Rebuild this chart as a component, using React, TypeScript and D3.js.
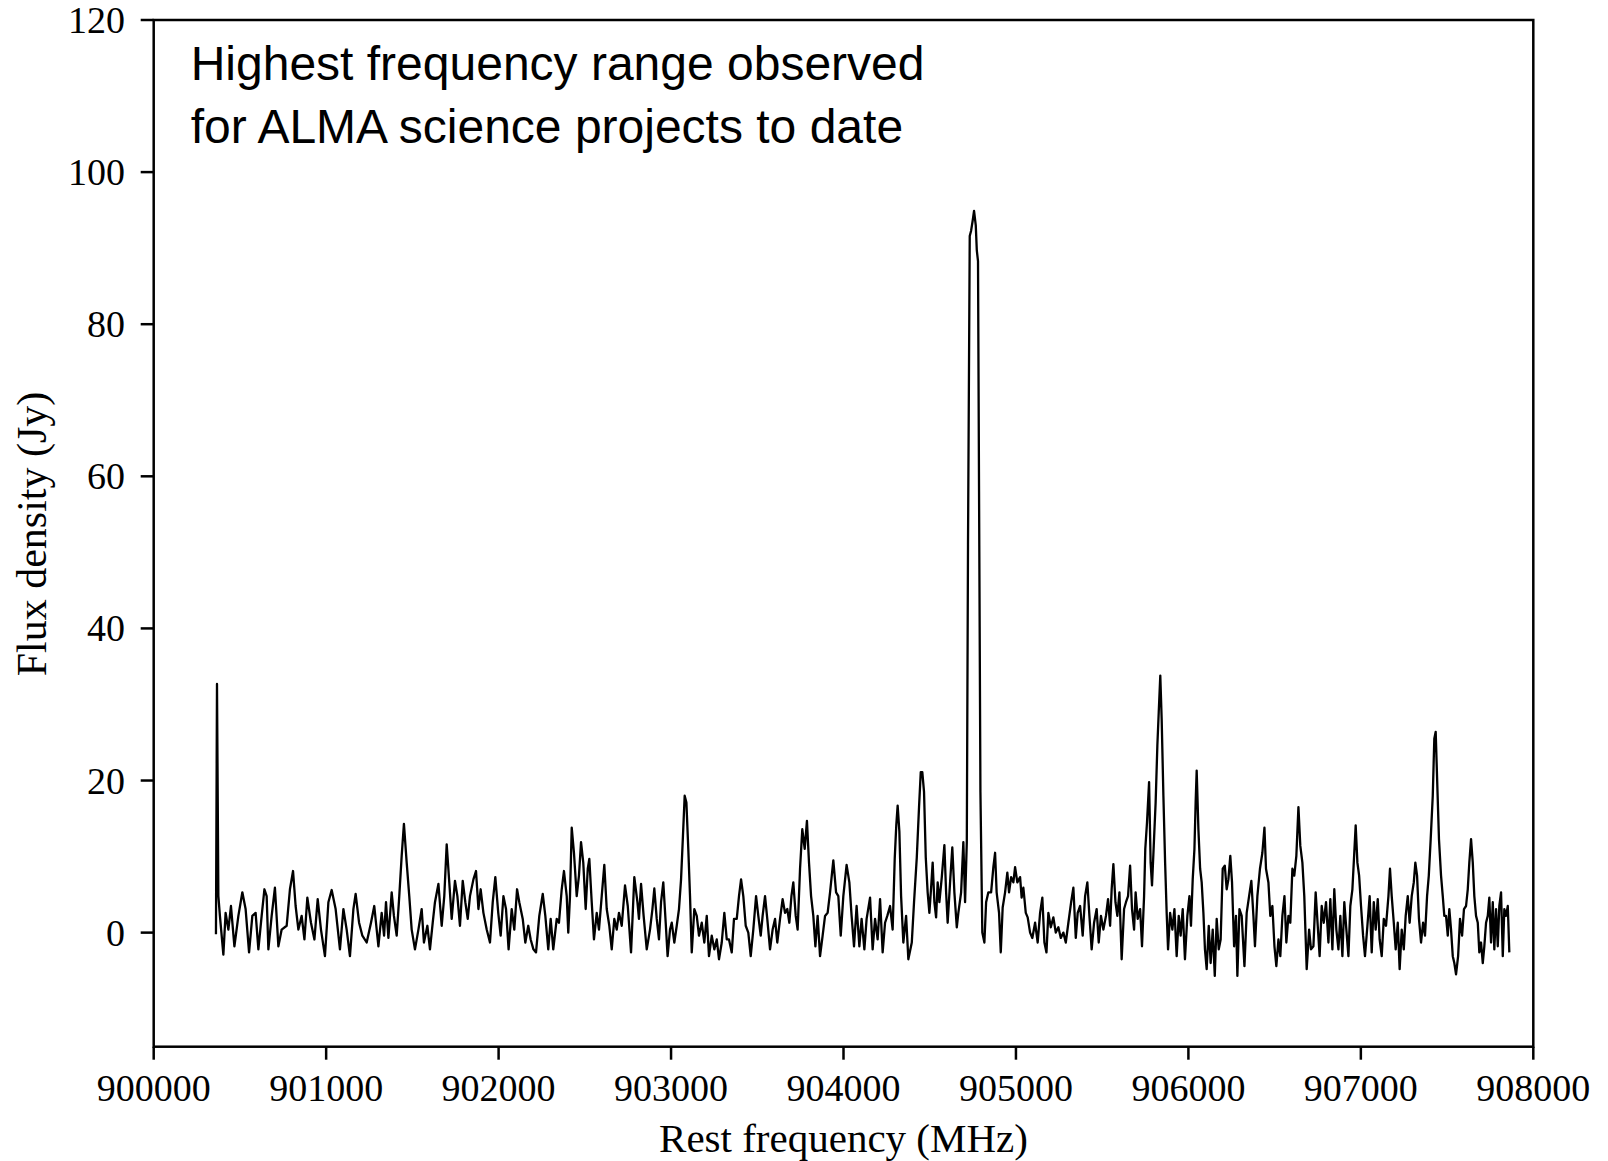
import React from "react";
import * as d3 from "d3";

// Spectrum: rest frequency (MHz) and flux density (Jy)
const freqMHz = [
  900361, 900367, 900375, 900384, 900404, 900417, 900433, 900448, 900468, 900491,
  900514, 900533, 900553, 900572, 900591, 900607, 900626, 900642, 900655, 900665,
  900684, 900703, 900723, 900742, 900771, 900790, 900808, 900823, 900839, 900858,
  900874, 900891, 900912, 900932, 900951, 900970, 900993, 901013, 901032, 901055,
  901080, 901100, 901119, 901138, 901158, 901171, 901191, 901210, 901235, 901260,
  901279, 901303, 901322, 901336, 901347, 901361, 901380, 901393, 901409, 901424,
  901438, 901451, 901467, 901482, 901496, 901515, 901535, 901554, 901567, 901587,
  901602, 901618, 901631, 901651, 901670, 901685, 901699, 901714, 901728, 901747,
  901761, 901776, 901792, 901807, 901821, 901834, 901854, 901869, 901883, 901896,
  901912, 901931, 901950, 901966, 901981, 901998, 902012, 902028, 902043, 902058,
  902076, 902091, 902107, 902120, 902140, 902155, 902172, 902186, 902202, 902217,
  902236, 902256, 902271, 902288, 902302, 902317, 902337, 902350, 902366, 902379,
  902395, 902404, 902414, 902424, 902437, 902453, 902466, 902478, 902491, 902505,
  902517, 902526, 902540, 902553, 902569, 902582, 902598, 902613, 902627, 902642,
  902656, 902671, 902685, 902698, 902714, 902733, 902749, 902768, 902787, 902805,
  902814, 902826, 902841, 902859, 902878, 902892, 902903, 902917, 902930, 902942,
  902955, 902969, 902980, 902994, 903004, 903019, 903033, 903046, 903058, 903069,
  903079, 903089, 903100, 903110, 903120, 903135, 903149, 903162, 903178, 903193,
  903207, 903220, 903236, 903251, 903265, 903278, 903294, 903309, 903323, 903336,
  903352, 903365, 903381, 903394, 903406, 903419, 903433, 903448, 903462, 903477,
  903493, 903506, 903520, 903531, 903545, 903558, 903574, 903589, 903603, 903616,
  903632, 903647, 903661, 903674, 903686, 903698, 903709, 903723, 903734, 903748,
  903761, 903775, 903788, 903800, 903812, 903825, 903837, 903850, 903864, 903879,
  903893, 903908, 903922, 903941, 903957, 903970, 903984, 903999, 904018, 904034,
  904047, 904061, 904076, 904092, 904105, 904121, 904134, 904154, 904169, 904183,
  904198, 904212, 904227, 904241, 904254, 904270, 904285, 904297, 904306, 904314,
  904324, 904334, 904347, 904363, 904376, 904396, 904409, 904425, 904438, 904448,
  904457, 904467, 904477, 904488, 904498, 904508, 904517, 904527, 904537, 904546,
  904556, 904570, 904585, 904595, 904604, 904618, 904631, 904643, 904657, 904666,
  904682, 904695, 904705, 904715, 904722, 904732, 904740, 904749, 904757, 904767,
  904773, 904780, 904786, 904794, 904805, 904817, 904827, 904840, 904856, 904869,
  904879, 904888, 904902, 904912, 904923, 904937, 904950, 904960, 904972, 904985,
  904995, 905008, 905024, 905033, 905043, 905057, 905068, 905082, 905095, 905111,
  905126, 905140, 905153, 905165, 905177, 905188, 905202, 905217, 905231, 905246,
  905260, 905275, 905289, 905304, 905320, 905333, 905347, 905358, 905372, 905387,
  905401, 905414, 905426, 905439, 905453, 905468, 905480, 905493, 905507, 905522,
  905534, 905546, 905555, 905565, 905577, 905588, 905600, 905613, 905627, 905638,
  905650, 905662, 905673, 905685, 905694, 905706, 905720, 905731, 905743, 905750,
  905760, 905772, 905781, 905789, 905799, 905810, 905820, 905828, 905837, 905845,
  905855, 905865, 905874, 905882, 905894, 905907, 905919, 905932, 905944, 905955,
  905967, 905980, 905994, 906006, 906015, 906025, 906035, 906042, 906048, 906058,
  906068, 906077, 906087, 906096, 906106, 906118, 906129, 906141, 906153, 906164,
  906176, 906187, 906199, 906211, 906222, 906232, 906243, 906253, 906265, 906276,
  906284, 906296, 906309, 906325, 906338, 906352, 906365, 906377, 906386, 906400,
  906415, 906429, 906441, 906450, 906464, 906475, 906487, 906499, 906510, 906522,
  906533, 906545, 906557, 906568, 906580, 906591, 906603, 906614, 906626, 906638,
  906649, 906661, 906672, 906686, 906700, 906711, 906725, 906738, 906750, 906761,
  906773, 906785, 906798, 906812, 906823, 906835, 906846, 906858, 906870, 906881,
  906893, 906904, 906916, 906928, 906939, 906951, 906961, 906970, 906980, 906990,
  907001, 907013, 907024, 907038, 907051, 907063, 907075, 907086, 907098, 907109,
  907121, 907133, 907146, 907160, 907169, 907179, 907191, 907202, 907214, 907225,
  907237, 907249, 907260, 907272, 907283, 907295, 907307, 907316, 907326, 907337,
  907349, 907361, 907372, 907384, 907394, 907405, 907417, 907426, 907434, 907444,
  907453, 907465, 907475, 907484, 907494, 907504, 907513, 907523, 907533, 907542,
  907552, 907564, 907575, 907587, 907598, 907610, 907620, 907629, 907639, 907649,
  907658, 907668, 907678, 907687, 907697, 907707, 907716, 907726, 907736, 907745,
  907755, 907765, 907774, 907784, 907794, 907803, 907813, 907823, 907832, 907842,
  907852, 907861,
];

const fluxJy = [
  -0.2, 32.7, 4.8, 2.2, -2.9, 2.6, 0.4, 3.5, -1.8, 2.2,
  5.3, 3.1, -2.6, 2.2, 2.6, -2.2, 2.2, 5.7, 4.8, -2.2,
  2.2, 5.9, -1.8, 0.4, 0.9, 5.7, 8.1, 3.5, 0.4, 2.2,
  -0.9, 4.6, 1.3, -0.9, 4.4, 0.4, -3.1, 4.0, 5.6, 3.1,
  -2.2, 3.1, 0.4, -3.1, 3.1, 5.1, 1.3, -0.4, -1.3, 1.3,
  3.5, -1.8, 2.6, -0.4, 4.0, -0.7, 5.3, 2.2, -0.4, 4.8,
  10.1, 14.3, 9.2, 4.8, 0.4, -2.2, 0.4, 3.1, -1.3, 0.9,
  -2.2, 1.3, 4.0, 6.4, 0.9, 4.8, 11.6, 6.6, 1.8, 6.8,
  4.8, 0.9, 6.8, 4.0, 1.8, 4.8, 7.0, 8.1, 3.1, 5.7,
  2.6, 0.4, -1.3, 4.0, 7.3, 2.6, -0.4, 4.8, 3.1, -2.2,
  3.1, 0.4, 5.7, 4.0, 1.8, -1.3, 0.9, -0.9, -2.2, -2.6,
  2.2, 5.1, 2.2, -2.2, 1.8, -2.2, 1.8, 1.3, 5.7, 8.1,
  4.8, 0.0, 4.8, 13.8, 10.5, 4.8, 7.5, 11.9, 9.2, 3.1,
  8.4, 9.7, 4.0, -0.9, 2.6, 0.4, 4.8, 8.9, 3.1, 0.9,
  -2.2, 1.8, 0.4, 2.6, 0.9, 6.2, 3.5, -2.6, 7.3, 4.0,
  1.8, 6.4, 2.2, -2.2, 0.4, 3.1, 5.8, 1.8, -0.9, 4.0,
  6.6, 1.3, -3.1, 0.4, 1.3, -1.3, 0.9, 3.1, 7.0, 12.7,
  18.0, 17.1, 11.0, 4.8, -2.6, 3.1, 2.2, -0.4, 1.3, -1.3,
  2.2, -3.1, -0.4, -2.2, -0.9, -3.5, -1.3, 2.6, -0.9, -0.9,
  -2.6, 1.8, 1.8, 4.8, 7.0, 4.8, 0.9, 0.0, -3.1, 0.4,
  4.8, 2.2, -0.4, 2.2, 4.8, 1.8, -2.2, 0.4, 1.8, -1.3,
  1.8, 4.4, 2.6, 3.1, 1.3, 4.8, 6.6, 2.2, 0.4, 8.4,
  13.6, 11.0, 14.7, 9.2, 4.8, 2.2, -1.8, 2.2, -3.1, -0.4,
  2.2, 2.6, 5.3, 9.5, 5.3, 4.8, -0.4, 4.8, 8.9, 6.6,
  2.2, -1.8, 3.5, -1.8, 1.8, -2.2, 1.8, 4.6, -2.2, 1.8,
  -0.9, 4.4, -2.6, 1.3, 2.2, 3.5, 0.4, 9.7, 14.1, 16.7,
  13.3, 4.8, -1.3, 2.2, -3.5, -1.3, 4.0, 9.9, 16.5, 21.1,
  21.1, 18.5, 9.9, 5.3, 2.6, 5.9, 9.2, 4.0, 2.0, 6.6,
  4.0, 7.3, 11.5, 5.3, 1.3, 6.6, 11.2, 5.3, 0.7, 2.6,
  5.3, 11.9, 4.0, 11.9, 51.0, 91.6, 92.3, 93.6, 94.9, 93.0,
  89.7, 88.3, 58.0, 18.5, 0.0, -1.3, 4.0, 5.3, 5.3, 8.6,
  10.5, 5.3, 2.6, -2.6, 3.3, 5.3, 7.9, 5.3, 7.3, 6.6,
  8.6, 6.6, 7.3, 4.6, 5.9, 2.6, 2.0, 0.0, -0.7, 1.3,
  -1.3, 2.6, 4.6, -1.3, -2.6, 2.6, 0.7, 2.0, 0.0, 0.7,
  -0.7, 0.0, -1.3, 1.3, 4.0, 5.9, -0.7, 2.6, 3.5, -0.4,
  4.8, 6.6, 2.2, -2.2, 1.3, 3.1, -1.3, 2.2, 0.4, 2.2,
  4.4, 0.9, 5.7, 9.0, 4.0, 2.2, 5.3, -3.5, 3.1, 4.0,
  4.8, 8.8, 3.1, 0.4, 5.3, 1.8, 3.1, -1.8, 4.8, 11.0,
  14.5, 19.8, 9.2, 6.2, 11.4, 17.1, 24.6, 29.0, 33.8, 28.1,
  18.0, 9.2, 2.6, -2.2, 2.6, 0.4, 3.1, -3.1, 2.2, -0.4,
  3.1, -3.5, 2.2, 4.8, 0.9, 7.0, 11.0, 17.1, 21.3, 13.6,
  8.4, 6.6, 2.6, -2.2, -4.8, 0.9, -4.0, 0.4, -5.7, 1.8,
  -2.2, -0.9, 8.4, 8.8, 5.7, 7.0, 10.1, 6.6, -1.8, 2.2,
  -5.7, 3.1, 2.2, -4.4, 2.6, 4.8, 6.8, 2.2, -1.8, 4.8,
  8.4, 10.5, 13.8, 8.4, 6.6, 2.2, 3.5, -1.8, -4.4, -0.9,
  -3.1, 2.2, 4.8, -1.3, 2.2, 1.3, 8.4, 7.5, 10.1, 16.5,
  11.4, 9.2, 4.8, -4.8, 0.4, -2.2, -1.8, 5.3, 0.9, -3.1,
  3.5, 1.3, 4.0, -1.3, 4.4, -2.2, 5.7, 0.4, -2.2, 2.2,
  -3.1, 4.0, 0.4, -3.1, 3.5, 5.7, 10.1, 14.1, 9.2, 7.5,
  3.5, -0.4, -3.1, 0.9, 4.8, -2.6, 4.0, 0.4, 4.4, -0.9,
  -3.1, 1.8, 0.9, 4.8, 8.4, 4.8, 1.3, -2.2, 1.3, -4.8,
  0.4, -2.2, 2.2, 4.8, 1.3, 4.8, 6.6, 9.2, 7.5, 1.8,
  -1.3, 1.3, -0.4, 4.8, 7.5, 12.3, 18.0, 25.5, 26.4, 18.9,
  12.3, 7.5, 4.8, 2.2, 2.2, -0.4, 3.1, 0.4, -3.1, -4.0,
  -5.5, -3.1, 1.8, -0.4, 3.1, 3.5, 5.7, 9.2, 12.3, 9.2,
  4.8, 2.2, 1.3, -2.6, -1.3, -4.0, -1.8, 1.3, 2.2, 4.6,
  -1.3, 4.0, -2.2, 3.1, -1.8, 3.5, 5.3, -3.1, 3.1, 2.2,
  3.5, -2.6,
];

const xTicks = [900000, 901000, 902000, 903000, 904000, 905000, 906000, 907000, 908000];
const yTicks = [0, 20, 40, 60, 80, 100, 120];
const titleLines = ["Highest frequency range observed", "for ALMA science projects to date"];

const width = 1608;
const height = 1161;
const plot = { left: 153.7, right: 1533.3, top: 20, bottom: 1046.7 };
const tickLen = 13;
const serif = "'Liberation Serif', 'Times New Roman', serif";
const sans = "'Liberation Sans', Arial, Helvetica, sans-serif";

const App = () => {
  const x = d3.scaleLinear().domain([900000, 908000]).range([plot.left, plot.right]);
  const y = d3.scaleLinear().domain([-15, 120]).range([plot.bottom, plot.top]);

  const line = d3
    .line<number>()
    .x((d, i) => x(freqMHz[i]))
    .y((d) => y(d));

  return (
    <svg
      width={width}
      height={height}
      style={{ position: "absolute", left: 0, top: 0, background: "#fff" }}
    >
      <rect width={width} height={height} fill="#fff" />

      {/* spectrum */}
      <path
        d={line(fluxJy) || ""}
        fill="none"
        stroke="#000"
        strokeWidth={2.3}
        strokeLinejoin="round"
      />

      {/* frame */}
      <rect
        x={plot.left}
        y={plot.top}
        width={plot.right - plot.left}
        height={plot.bottom - plot.top}
        fill="none"
        stroke="#000"
        strokeWidth={2.5}
      />

      {/* x axis */}
      {xTicks.map((t) => (
        <g key={t}>
          <line
            x1={x(t)}
            x2={x(t)}
            y1={plot.bottom}
            y2={plot.bottom + tickLen}
            stroke="#000"
            strokeWidth={2.5}
          />
          <text x={x(t)} y={1101} textAnchor="middle" fontFamily={serif} fontSize={38}>
            {t}
          </text>
        </g>
      ))}

      {/* y axis */}
      {yTicks.map((t) => (
        <g key={t}>
          <line
            x1={plot.left - tickLen}
            x2={plot.left}
            y1={y(t)}
            y2={y(t)}
            stroke="#000"
            strokeWidth={2.5}
          />
          <text x={125} y={y(t) + 13} textAnchor="end" fontFamily={serif} fontSize={38}>
            {t}
          </text>
        </g>
      ))}

      <text x={(plot.left + plot.right) / 2} y={1152} textAnchor="middle" fontFamily={serif} fontSize={41}>
        Rest frequency (MHz)
      </text>
      <text
        transform="translate(46,534) rotate(-90)"
        textAnchor="middle"
        fontFamily={serif}
        fontSize={42}
      >
        Flux density (Jy)
      </text>

      {titleLines.map((s, i) => (
        <text key={s} x={190.7} y={80 + i * 63} fontFamily={sans} fontSize={48}>
          {s}
        </text>
      ))}
    </svg>
  );
};

export default App;
